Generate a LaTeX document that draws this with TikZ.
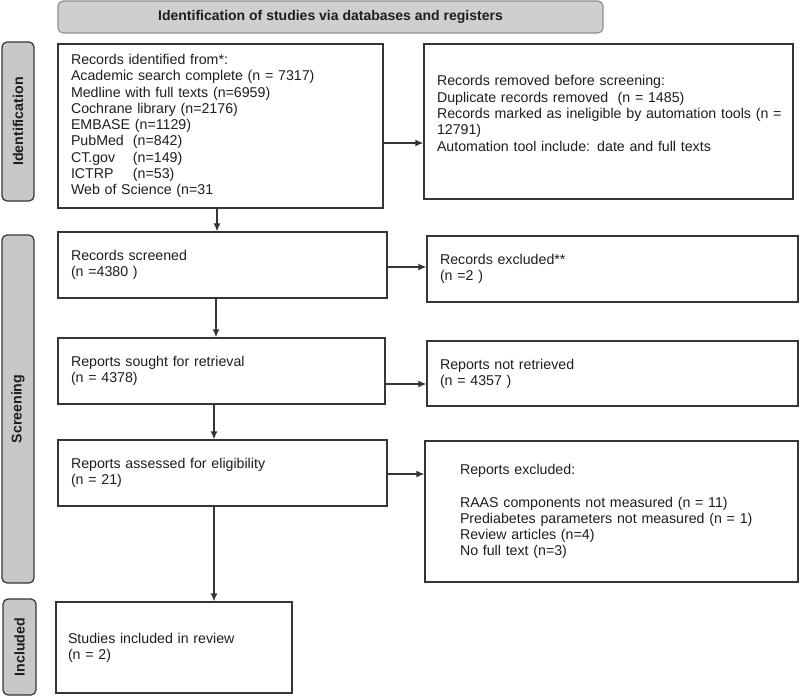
\documentclass[tikz,border=0pt]{standalone}
\usepackage{fontspec}
\setmainfont{Liberation Sans}
\usetikzlibrary{arrows.meta,calc}
\definecolor{linec}{HTML}{353535}
\definecolor{txtc}{HTML}{1E1E1E}
\definecolor{barfill}{HTML}{C8C8C8}
\definecolor{hdrfill}{HTML}{CFCFCF}
\definecolor{hdrline}{HTML}{8E8E8E}
\begin{document}
\begin{tikzpicture}[x=1pt,y=-1pt,
  every node/.style={text=txtc, font=\fontsize{14.2}{16.3}\selectfont},
  flowbox/.style={draw=linec, line width=1.3pt, fill=white, rectangle, align=left, inner xsep=13pt, inner ysep=0pt},
  sidebar/.style={draw=linec, line width=1.2pt, fill=barfill, rounded corners=5pt, rotate=90, inner sep=0pt, font=\bfseries\fontsize{14.2}{16.3}\selectfont},
  hdr/.style={draw=hdrline, line width=1.1pt, fill=hdrfill, rounded corners=5pt, inner sep=0pt, font=\bfseries\fontsize{14}{16}\selectfont},
  arr/.style={draw=linec, line width=1.3pt, -{Latex[length=8pt,width=7pt]}}
]
\useasboundingbox (0,0) rectangle (800,696);

% header
\node[hdr, minimum width=545pt, minimum height=32pt] (hdr) at (330.5,17) {Identification of studies via databases and registers};

% side bars
\node[sidebar, minimum width=159pt, minimum height=32pt] (sbid) at (18,121.5) {Identification};
\node[sidebar, minimum width=348pt, minimum height=32pt] (sbscr) at (18,409) {Screening};
\node[sidebar, minimum width=96pt, minimum height=33pt] (sbinc) at (19.5,647) {Included};

% boxes
\node[flowbox, minimum width=325pt, minimum height=164pt, text width=299pt] (b1) at (220.5,126) {Records identified from*:\\
Academic search complete (n = 7317)\\
Medline with full texts (n=6959)\\
Cochrane library (n=2176)\\
EMBASE (n=1129)\\
\makebox[62pt][l]{PubMed}(n=842)\\
\makebox[62pt][l]{CT.gov}(n=149)\\
\makebox[62pt][l]{ICTRP}(n=53)\\
Web of Science (n=31};

\node[flowbox, minimum width=369pt, minimum height=155pt, text width=343pt] (b2) at (608.5,121.5) {Records removed before screening:\\
\mbox{Duplicate records removed\ \ (n = 1485)}\\
\mbox{Records marked as ineligible by automation tools (n =}\\
12791)\\
Automation tool include: date and full texts\\
\mbox{}};

\node[flowbox, minimum width=329pt, minimum height=66pt, text width=303pt] (b3) at (222.5,265) {Records screened\\(n =4380 )};
\node[flowbox, minimum width=371pt, minimum height=66pt, text width=345pt] (b4) at (612.5,269) {Records excluded**\\(n =2 )};
\node[flowbox, minimum width=327pt, minimum height=66pt, text width=301pt] (b5) at (221.5,371) {Reports sought for retrieval\\(n = 4378)};
\node[flowbox, minimum width=371pt, minimum height=65pt, text width=345pt] (b6) at (612.5,373.5) {Reports not retrieved\\(n = 4357 )};
\node[flowbox, minimum width=329pt, minimum height=66pt, text width=303pt] (b7) at (222.5,473) {Reports assessed for eligibility\\(n = 21)};
\node[flowbox, inner xsep=35pt, minimum width=373pt, minimum height=141pt, text width=303pt] (b8) at (611.5,511.5) {Reports excluded:\\
\mbox{}\\
\mbox{RAAS components not measured (n = 11)}\\
\mbox{Prediabetes parameters not measured (n = 1)}\\
Review articles (n=4)\\
No full text (n=3)};
\node[flowbox, inner xsep=12pt, minimum width=236pt, minimum height=91pt, text width=212pt] (b9) at (174,647.5) {Studies included in review\\(n = 2)};

% helper coordinates for connector positions
\coordinate (v1) at (217,0);
\coordinate (v2) at (216,0);
\coordinate (v3) at (214,0);
\coordinate (h1) at (0,143);
\coordinate (h2) at (0,267);
\coordinate (h3) at (0,384);
\coordinate (h4) at (0,474);

% connectors
\draw[arr] (b1.south -| v1) -- (b3.north -| v1);
\draw[arr] (b3.south -| v2) -- (b5.north -| v2);
\draw[arr] (b5.south -| v3) -- (b7.north -| v3);
\draw[arr] (b7.south -| v3) -- (b9.north -| v3);
\draw[arr] (b1.east |- h1) -- (b2.west |- h1);
\draw[arr] (b3.east |- h2) -- (b4.west |- h2);
\draw[arr] (b5.east |- h3) -- (b6.west |- h3);
\draw[arr] (b7.east |- h4) -- (b8.west |- h4);
\end{tikzpicture}
\end{document}
